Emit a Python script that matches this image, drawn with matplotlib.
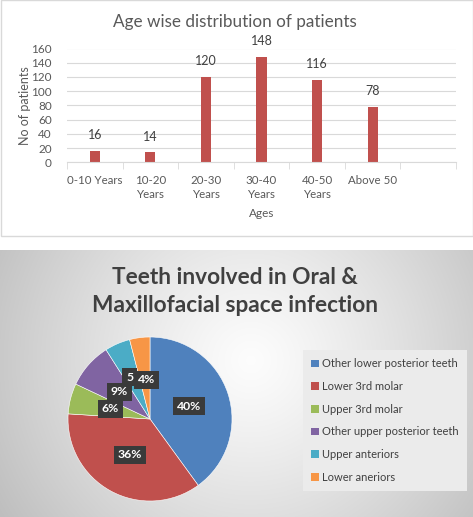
import numpy as np
import matplotlib
matplotlib.use("Agg")
import matplotlib.pyplot as plt
from matplotlib.patches import Rectangle

plt.rcParams['font.family'] = ['Lato', 'DejaVu Sans']

# ---- data ----
age_groups = ["0-10 Years", "10-20\nYears", "20-30\nYears", "30-40\nYears", "40-50\nYears", "Above 50"]
patients = [16, 14, 120, 148, 116, 78]

teeth = ["Other lower posterior teeth", "Lower 3rd molar", "Upper 3rd molar",
         "Other upper posterior teeth", "Upper anteriors", "Lower aneriors"]
teeth_pct = [40, 36, 6, 9, 5, 4]
teeth_labels = ["40%", "36%", "6%", "9%", "5", "4%"]
teeth_colors = ["#4F81BD", "#C0504D", "#9BBB59", "#8064A2", "#4BACC6", "#F79646"]

W, H = 473, 517
fig = plt.figure(figsize=(W / 100, H / 100), dpi=100)
fig.patch.set_facecolor("white")

def rect(x0, y0, x1, y1):
    return [x0 / W, 1 - y1 / H, (x1 - x0) / W, (y1 - y0) / H]

# ---- top panel frame ----
fig.patches.append(Rectangle((0.5 / W, 1 - 236.5 / H), 472 / W, 236 / H, transform=fig.transFigure,
                             facecolor="none", edgecolor="#d9d9d9", linewidth=1, zorder=5))

ax = fig.add_axes(rect(67, 48.5, 456, 162.3))
ax.set_xlim(-0.5, 6.5)
ax.set_ylim(0, 160)
ax.set_yticks(range(0, 161, 20))
ax.yaxis.grid(True, color="#d9d9d9", linewidth=0.8)
ax.set_axisbelow(True)
for s in ["top", "right", "left"]:
    ax.spines[s].set_visible(False)
ax.spines["bottom"].set_color("#d9d9d9")
ax.tick_params(axis="y", length=0, pad=11, labelsize=8.5, labelcolor="#595959")
x = np.arange(len(age_groups))
bars = ax.bar(x, patients, width=0.18, color="#C0504D")
ax.set_xticks(x)
ax.set_xticklabels(age_groups, fontsize=8.3, color="#595959", linespacing=1.35)
ax.tick_params(axis="x", length=0, pad=9)
ax.set_xticks(np.arange(-0.5, 7, 1), minor=True)
ax.tick_params(axis="x", which="minor", length=5, color="#d9d9d9")
for xi, v in zip(x, patients):
    ax.annotate(str(v), (xi, v), xytext=(0, 7), textcoords="offset points",
                ha="center", va="bottom", fontsize=9, color="#404040")
ax.set_ylabel("No of patients", fontsize=9, color="#595959")
ax.yaxis.set_label_coords(-36 / 389, 0.5)
ax.set_xlabel("Ages", fontsize=8.5, color="#595959", labelpad=6)
fig.text(235 / W, 1 - 22 / H, "Age wise distribution of patients", ha="center", va="center",
         fontsize=12.3, color="#595959")

# ---- bottom panel gradient background ----
bg = fig.add_axes(rect(0, 250, 473, 517))
bg.set_axis_off()
yy, xx = np.mgrid[250:517, 0:473]
d = np.sqrt(((xx - 250) / 1.0) ** 2 + ((yy - 360) / 1.0) ** 2)
t = np.clip(d / 300.0, 0, 1)
g = 0.99 - (0.99 - 0.74) * t ** 1.2
bg.imshow(np.dstack([g, g, g]), extent=(0, 473, 517, 250), aspect="auto", interpolation="bilinear")
bg.set_xlim(0, 473)
bg.set_ylim(517, 250)

fig.text(235 / W, 1 - 277 / H, "Teeth involved in Oral &", ha="center", va="center",
         fontsize=16.3, fontweight="bold", color="#404040")
fig.text(235 / W, 1 - 305 / H, "Maxillofacial space infection", ha="center", va="center",
         fontsize=16.3, fontweight="bold", color="#404040")

# ---- pie ----
cx, cy, r = 150, 419, 82
pax = fig.add_axes(rect(cx - r, cy - r, cx + r, cy + r))
pax.set_axis_off()
wedges, _ = pax.pie(teeth_pct, colors=teeth_colors, startangle=90, counterclock=False,
                    radius=1, wedgeprops=dict(edgecolor="white", linewidth=0.4))
pax.set_xlim(-1, 1)
pax.set_ylim(-1, 1)
# small nudges (in axes units) so overlapping labels stay as in the original
nudges = [(0, 0), (0, 0), (0, 0), (0, 0), (-0.05, 0.05), (0.02, -0.02)]
zorders = [5, 5, 5, 7, 6, 5]
for w, lab, (nx, ny), z in zip(wedges, teeth_labels, nudges, zorders):
    ang = np.deg2rad((w.theta1 + w.theta2) / 2)
    px, py = 0.5 * np.cos(ang) + nx, 0.5 * np.sin(ang) + ny
    pax.text(px, py, lab, ha="center", va="center", fontsize=8.8, fontweight="bold", color="white",
             zorder=z,
             bbox=dict(boxstyle="square,pad=0.3", facecolor="#3a3a3a", edgecolor="none"))

leg = fig.legend(wedges, teeth, loc="upper left", bbox_to_anchor=(303 / W, 1 - 350 / H),
                 frameon=True, fancybox=False, facecolor="#ebebeb", edgecolor="none", framealpha=1,
                 fontsize=8.0, handlelength=0.7, handleheight=0.7, handletextpad=0.3,
                 labelspacing=1.05, borderpad=0.75, borderaxespad=0)
for tx in leg.get_texts():
    tx.set_color("#404040")
for h in leg.legend_handles:
    h.set_edgecolor("none")

fig.savefig("out.png", dpi=100)
